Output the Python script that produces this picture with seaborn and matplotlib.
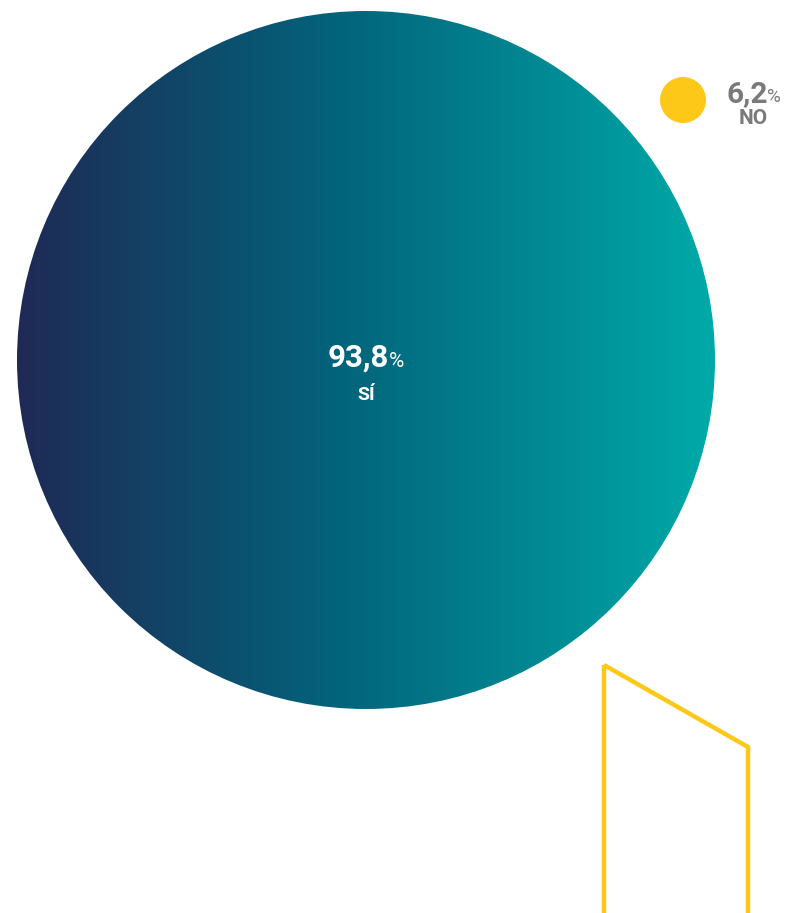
import numpy as np
import matplotlib
matplotlib.use("Agg")
import matplotlib.pyplot as plt
from matplotlib.colors import LinearSegmentedColormap
from matplotlib.patches import Circle, Polygon
import seaborn as sns

# Survey answers and their shares (%)
categories = ["SÍ", "NO"]
values = [93.8, 6.2]
value_labels = ["93,8", "6,2"]

sns.set_theme(style="white")
plt.rcParams["font.family"] = ["Roboto", "DejaVu Sans"]

W, H = 789, 913
fig = plt.figure(figsize=(W / 100, H / 100), dpi=100)
ax = fig.add_axes([0, 0, 1, 1])
ax.set_xlim(0, W)
ax.set_ylim(H, 0)
ax.set_aspect("equal")
ax.axis("off")

# Main bubble with horizontal navy-to-teal gradient
cx, cy, r = 366, 360, 349
grad = LinearSegmentedColormap.from_list(
    "navy_teal",
    [(0.0, "#1f2a55"), (0.45, "#03627a"), (1.0, "#00aaa8")],
)
ramp = np.linspace(0, 1, 512).reshape(1, -1)
img = ax.imshow(ramp, cmap=grad, aspect="auto",
                extent=[cx - r, cx + r, cy + r, cy - r], zorder=1)
clip = Circle((cx, cy), r, transform=ax.transData, facecolor="none", edgecolor="none")
ax.add_patch(clip)
img.set_clip_path(clip)

# Small bubble for the minority answer
ax.add_patch(Circle((683, 100), 23, facecolor="#fdc818", edgecolor="none", zorder=2))

# Decorative outline shape
ax.add_patch(Polygon([(604, 665), (748, 747), (748, 915), (604, 915)], closed=True,
                     fill=False, edgecolor="#fdc818", linewidth=3.2, zorder=2,
                     joinstyle="miter"))

fig.canvas.draw()
inv = ax.transData.inverted()


def data_x(bbox):
    a = inv.transform((bbox.x0, bbox.y0))[0]
    b = inv.transform((bbox.x1, bbox.y0))[0]
    return a, b


def pct_label(xc, y, num, name, color, num_size, pct_size, name_size, name_dy):
    renderer = fig.canvas.get_renderer()
    t = ax.text(0, y, num, fontsize=num_size, fontweight="bold", color=color,
                ha="left", va="baseline", zorder=3)
    p = ax.text(0, y, "%", fontsize=pct_size, color=color,
                ha="left", va="baseline", zorder=3)
    t0, t1 = data_x(t.get_window_extent(renderer))
    p0, p1 = data_x(p.get_window_extent(renderer))
    gap = -0.5
    total = (t1 - t0) + gap + (p1 - p0)
    left = xc - total / 2
    t.set_x(left)
    p.set_x(left + (t1 - t0) + gap)
    ax.text(xc, y + name_dy, name, fontsize=name_size, fontweight="bold",
            color=color, ha="center", va="baseline", zorder=3)


pct_label(366, 367, value_labels[0], categories[0], "white", 22.5, 15, 14, 33)
pct_label(753.5, 102, value_labels[1], categories[1], "#7a7a7a", 21.5, 13.5, 15, 22)

fig.savefig("out.png", dpi=100, facecolor="white")
